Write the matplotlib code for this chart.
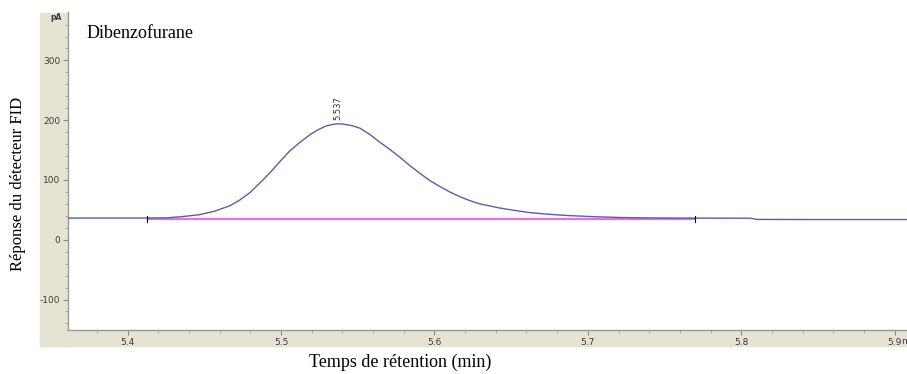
import matplotlib
matplotlib.use("Agg")
import matplotlib.pyplot as plt
from matplotlib.patches import Rectangle

# ---- data ----
time_min = [5.3612, 5.3800, 5.4000, 5.4120, 5.4250, 5.4350, 5.4472, 5.4570, 5.4668,
            5.4735, 5.4798, 5.4863, 5.4928, 5.4994, 5.5059, 5.5124, 5.5190, 5.5235,
            5.5290, 5.5339, 5.5370, 5.5404, 5.5460, 5.5515, 5.5580, 5.5645, 5.5710,
            5.5775, 5.5840, 5.5906, 5.5970, 5.6036, 5.6100, 5.6166, 5.6230, 5.6296,
            5.6427, 5.6550, 5.6622, 5.6750, 5.6883, 5.7050, 5.7208, 5.7450, 5.7700,
            5.8060, 5.8100, 5.8500, 5.9080]
signal_pA = [36.3, 36.3, 36.3, 36.3, 36.6, 38.5, 42.0, 48.0, 57.0,
             67.0, 79.0, 95.0, 112.0, 131.0, 149.0, 163.0, 176.0, 183.0,
             190.0, 193.0, 194.0, 193.5, 191.0, 186.6, 176.0, 163.0, 151.0,
             138.0, 124.0, 111.0, 99.0, 89.0, 80.0, 72.0, 65.5, 60.0,
             53.0, 48.0, 45.4, 42.5, 40.3, 38.5, 37.2, 36.4, 36.2,
             36.0, 34.0, 33.8, 33.8]
baseline_t = [5.413, 5.770]
baseline_v = [35.2, 35.2]
peak_rt = 5.537
peak_height = 194.0
peak_label = "5.537"
title = "Dibenzofurane"
xlabel = "Temps de rétention (min)"
ylabel = "Réponse du détecteur FID"
xticks = [5.4, 5.5, 5.6, 5.7, 5.8, 5.9]
xticklabels = ["5.4", "5.5", "5.6", "5.7", "5.8", "5.9"]
x_unit = "min"
yticks = [-100, 0, 100, 200, 300]
yticklabels = ["-100", "0", "100", "200", "300"]
y_unit = "pA"

W, H = 907, 374
fig = plt.figure(figsize=(W / 100, H / 100), dpi=100, facecolor="white")

beige = "#e6e3d3"
# beige axis panels (figure pixel coords -> fraction)
fig.patches.append(Rectangle((40 / W, 1 - 346 / H), 28 / W, (346 - 13) / H,
                             transform=fig.transFigure, color=beige, zorder=-5))
fig.patches.append(Rectangle((40 / W, 1 - 346 / H), (W - 40) / W, 16 / H,
                             transform=fig.transFigure, color=beige, zorder=-5))

ax = fig.add_axes([68 / W, 1 - 330 / H, (W - 68) / W, (330 - 12) / H])
ax.set_zorder(1)
ax.set_facecolor("white")
ax.set_xlim(5.3612, 5.908)
ax.set_ylim(-151, 381)

for s in ["top", "right"]:
    ax.spines[s].set_visible(False)
for s in ["left", "bottom"]:
    ax.spines[s].set_color("#9a9a8e")
    ax.spines[s].set_linewidth(1.0)

tick_col = "#3a3a3a"
ax.set_xticks(xticks)
ax.set_xticklabels(xticklabels)
ax.set_yticks(yticks)
ax.set_yticklabels(yticklabels)
ax.set_xticks([5.38 + 0.02 * i for i in range(27)], minor=True)
ax.set_yticks([-140 + 20 * i for i in range(26)], minor=True)
ax.tick_params(axis="both", which="major", direction="out", length=3.5, width=0.8,
               colors="#8a8a80", labelcolor=tick_col, labelsize=6.5, pad=2)
ax.tick_params(axis="both", which="minor", direction="out", length=2, width=0.6,
               colors="#a0a096")
for lab in ax.get_xticklabels():
    lab.set_clip_on(False)

# unit labels
fig.text(56 / W, 1 - 18 / H, y_unit, fontsize=5.5, color=tick_col, ha="center",
         va="center", zorder=5, fontweight="bold")
fig.text(901 / W, 1 - 341 / H, x_unit, fontsize=6.5, color=tick_col, ha="left",
         va="center", zorder=5)

# integration baseline and signal
ax.plot(baseline_t, baseline_v, color="#e472e4", lw=1.6, zorder=2, solid_capstyle="butt")
ax.plot(time_min, signal_pA, color="#5c5cae", lw=1.0, zorder=3)
for t in baseline_t:
    ax.plot([t, t], [30, 40], color="black", lw=0.8, zorder=4)

ax.text(peak_rt, peak_height + 6, peak_label, rotation=90, fontsize=6,
        ha="center", va="bottom", color="#333333")

serif = ["Liberation Serif", "DejaVu Serif"]
fig.text(87 / W, 1 - 33 / H, title, family=serif,
         fontsize=13, ha="left", va="center", color="black")
fig.text(400 / W, 1 - 362 / H, xlabel, family=serif, fontsize=13,
         ha="center", va="center", color="black")
fig.text(18 / W, 1 - 184 / H, ylabel, family=serif, fontsize=12, rotation=90,
         ha="center", va="center", color="black")

fig.savefig("out.png", dpi=100, facecolor="white")
